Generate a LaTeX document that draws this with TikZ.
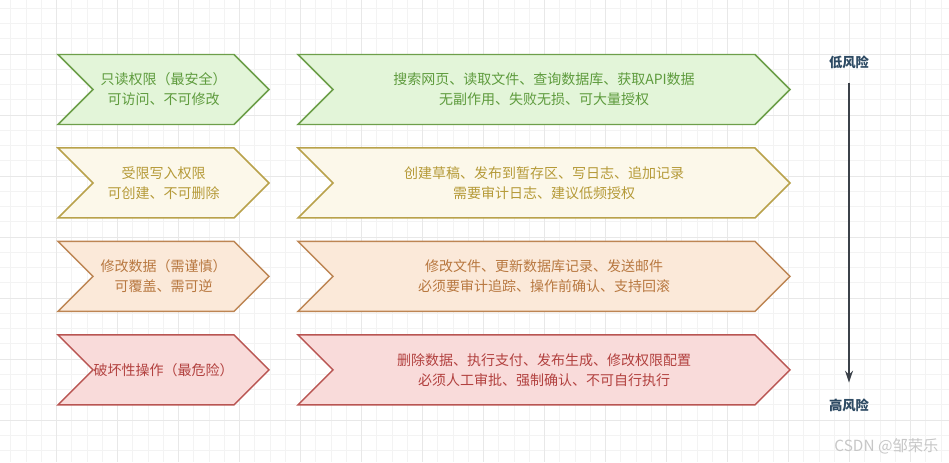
\documentclass[tikz,border=0pt]{standalone}
\usepackage{fontspec}
\setmainfont{Noto Sans CJK SC}
\usepackage{xcolor}
\usetikzlibrary{arrows.meta,shapes.symbols,positioning}

\definecolor{gridminor}{HTML}{F3F3F3}
\definecolor{gridmajor}{HTML}{E8E8E8}
\definecolor{readfill}{HTML}{E3F5D9}
\definecolor{readline}{HTML}{6D9F4A}
\definecolor{readtext}{HTML}{5E9B3D}
\definecolor{writefill}{HTML}{FCF8EA}
\definecolor{writeline}{HTML}{B9A24B}
\definecolor{writetext}{HTML}{B59A38}
\definecolor{editfill}{HTML}{FBE9D9}
\definecolor{editline}{HTML}{BD8553}
\definecolor{edittext}{HTML}{B87840}
\definecolor{killfill}{HTML}{F9DBDA}
\definecolor{killline}{HTML}{B95552}
\definecolor{killtext}{HTML}{B2413F}
\definecolor{riskline}{HTML}{3B4149}
\definecolor{risktext}{HTML}{2D4A63}

\begin{document}
\begin{tikzpicture}[x=0.75pt,y=-0.75pt,node distance=16.5pt and 21.75pt,semithick]
  \tikzstyle{every node}=[font=\fontsize{10.5}{15}\selectfont]
  \tikzstyle{tag}=[signal, signal from=west, signal to=east, signal pointer angle=90,
    line width=1.1pt, align=center, minimum height=52.5pt, inner sep=0pt]
  \tikzstyle{level}=[tag, minimum width=158.25pt]
  \tikzstyle{detail}=[tag, minimum width=369pt]
  \tikzstyle{risk}=[font=\fontsize{10}{12}\selectfont\bfseries, text=risktext, inner sep=0pt]

  % background grid
  \useasboundingbox (0,0) rectangle (949,462);
  \fill[white] (0,0) rectangle (949,462);
  \foreach \k in {-3,...,58}
    \draw[gridminor, line width=0.75pt] ({56.5+15.25*\k},0) -- ++(0,462);
  \foreach \k in {-3,...,26}
    \draw[gridminor, line width=0.75pt] (0,{54+15.25*\k}) -- ++(949,0);
  \foreach \k in {0,...,14}
    \draw[gridmajor, line width=0.75pt] ({56.5+61*\k},0) -- ++(0,462);
  \foreach \k in {0,...,6}
    \draw[gridmajor, line width=0.75pt] (0,{54+61*\k}) -- ++(949,0);

  % permission levels
  \node[level, fill=readfill, draw=readline, text=readtext] (read) at (163.5,89.5)
    {只读权限（最安全）\\可访问、不可修改};
  \node[level, fill=writefill, draw=writeline, text=writetext] (write) [below=of read]
    {受限写入权限\\可创建、不可删除};
  \node[level, fill=editfill, draw=editline, text=edittext] (edit) [below=of write]
    {修改数据（需谨慎）\\可覆盖、需可逆};
  \node[level, fill=killfill, draw=killline, text=killtext] (kill) [below=of edit]
    {破坏性操作（最危险）};

  % examples
  \node[detail, fill=readfill, draw=readline, text=readtext] (readx) at (544,89.5)
    {搜索网页、读取文件、查询数据库、获取API数据\\无副作用、失败无损、可大量授权};
  \node[detail, fill=writefill, draw=writeline, text=writetext] (writex) [below=of readx]
    {创建草稿、发布到暂存区、写日志、追加记录\\需要审计日志、建议低频授权};
  \node[detail, fill=editfill, draw=editline, text=edittext] (editx) [below=of writex]
    {修改文件、更新数据库记录、发送邮件\\必须要审计追踪、操作前确认、支持回滚};
  \node[detail, fill=killfill, draw=killline, text=killtext] (killx) [below=of editx]
    {删除数据、执行支付、发布生成、修改权限配置\\必须人工审批、强制确认、不可自行执行};

  % risk scale
  \node[risk] (low) at (849,62.5) {低风险};
  \node[risk] (high) at (849,405.5) {高风险};
  \draw[riskline, line width=1.1pt, -{Stealth[length=9pt,width=6pt]},
    shorten <=10pt, shorten >=12pt] (low) -- (high);

  \node[text=black!22, font=\fontsize{11.5}{12}\selectfont] (mark) at (886.5,446.5) {CSDN @邹荣乐};
\end{tikzpicture}
\end{document}
